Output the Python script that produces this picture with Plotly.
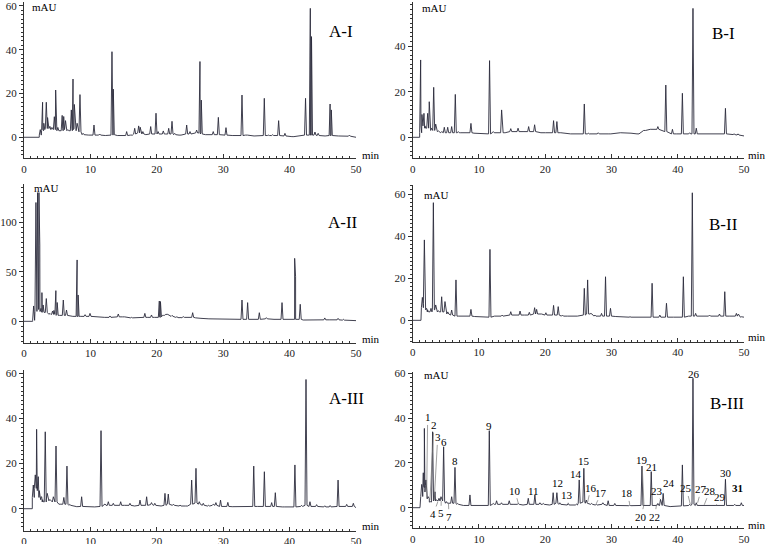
import plotly.graph_objects as go

# ---------------- data (retention time [min], apex height [mAU], local baseline [mAU]) ----------------
a1_start = 2.3
a1_rt = [2.45, 2.8, 2.98, 3.36, 3.55, 3.9, 4.2, 4.57, 4.77, 5.1, 5.75, 5.98, 6.25, 6.6, 7.13, 7.38, 7.58, 8.0, 8.43, 8.9,
         9.6, 10.54, 11.4, 12.4, 13.25, 13.45, 14.2, 15.46, 16.2, 16.67, 17.27, 17.5, 17.9, 18.5, 19.08, 19.88, 20.2,
         20.98, 21.5, 21.79, 22.29, 22.7, 23.5, 24.5, 25.0, 26.0, 26.5, 26.7, 27.5, 28.5, 29.27, 29.8, 30.42, 31.5,
         32.83, 33.5, 34.8, 36.19, 36.8, 37.45, 38.35, 39.3, 40.5, 42.4, 43.12, 43.3, 43.82, 44.3, 45.2, 46.1, 46.28,
         47.5, 49.0]
a1_h = [3.5, 16.0, 6.4, 16.0, 9.0, 5.0, 4.5, 9.4, 21.6, 4.5, 10.0, 9.5, 7.6, 3.5, 12.5, 26.6, 15.0, 6.4, 19.5, 1.8,
        1.2, 5.6, 1.5, 0.8, 39.1, 22.0, 0.8, 2.6, 1.0, 4.1, 5.2, 4.6, 2.6, 1.2, 4.9, 11.0, 2.6,
        2.9, 1.5, 4.1, 7.3, 1.8, 1.0, 5.6, 2.6, 3.3, 34.6, 17.0, 1.2, 2.6, 9.1, 1.2, 4.4, 0.8,
        19.3, 1.0, 0.6, 17.8, 1.0, 1.2, 7.6, 1.8, 0.3, 17.8, 58.9, 46.0, 2.4, 1.8, 0.6, 15.2, 12.5,
        0.6, 1.0]
a1_base = [1.0, 3.0, 3.5, 4.0, 4.0, 4.0, 3.5, 3.5, 4.0, 3.0, 3.0, 4.0, 3.5, 3.0, 3.0, 4.0, 3.5, 3.0, 2.5, 1.2,
           1.0, 1.0, 1.0, 0.8, 1.0, 1.2, 0.8, 0.8, 1.0, 1.5, 2.0, 2.0, 1.5, 1.2, 1.5, 1.5, 1.5,
           1.5, 1.5, 1.5, 1.5, 1.2, 1.0, 1.5, 1.5, 2.0, 2.0, 1.5, 1.2, 1.2, 1.2, 1.2, 1.0, 0.8,
           0.8, 1.0, 0.6, 0.8, 0.8, 0.8, 0.8, 0.6, 0.3, 1.0, 1.0, 1.0, 1.0, 0.8, 0.6, 0.8, 0.8,
           0.6, 0.5]
a1_end = 0.0

b1_start = 1.05
b1_rt = [1.2, 1.4, 1.7, 1.96, 2.26, 2.5, 2.86, 3.17, 3.47, 3.87, 4.37, 4.77, 5.28, 5.88, 6.43, 6.88, 7.4, 8.0, 8.79,
         9.4, 10.5, 11.6, 12.16, 13.42, 13.8, 14.8, 15.9, 16.8, 17.5, 18.4, 19.2, 20.2, 21.26, 21.76, 22.2, 23.97,
         25.0, 25.9, 26.5, 28.0, 29.75, 31.5, 32.8, 34.0, 35.0, 36.0, 37.0, 38.2, 39.2, 40.0, 40.7, 41.8, 42.3,
         42.8, 44.0, 46.1, 47.2, 48.5, 49.1]
b1_h = [33.9, 10.0, 10.5, 4.0, 10.5, 15.6, 4.0, 21.9, 5.8, 2.8, 2.5, 4.4, 4.4, 4.7, 18.8, 2.5, 2.0, 2.0, 6.1,
        1.8, 1.5, 33.6, 2.5, 12.0, 2.0, 3.8, 4.0, 2.5, 4.7, 5.5, 2.0, 2.0, 7.3, 6.9, 2.0, 1.5,
        1.5, 14.6, 1.8, 2.0, 1.5, 2.0, 2.0, 1.5, 3.0, 3.5, 4.7, 22.9, 3.5, 1.5, 19.3, 2.0, 56.5,
        4.0, 1.5, 1.8, 12.7, 1.5, 1.5]
b1_base = [2.0, 5.0, 5.0, 4.0, 4.0, 4.0, 3.0, 3.0, 3.0, 2.5, 2.0, 2.0, 2.0, 2.0, 2.0, 2.0, 2.0, 2.0, 2.0,
           1.8, 1.5, 1.5, 2.0, 2.0, 2.0, 2.5, 2.5, 2.5, 2.5, 2.5, 2.0, 2.0, 2.0, 2.0, 2.0, 1.5,
           1.5, 1.5, 1.5, 1.5, 1.5, 2.0, 1.8, 1.5, 3.0, 3.5, 3.5, 2.5, 1.5, 1.5, 1.5, 1.5, 1.5,
           1.5, 1.5, 1.5, 1.5, 1.2, 1.0]
b1_end = 0.6

a2_start = 1.3
a2_rt = [1.45, 1.8, 2.05, 2.25, 2.38, 2.55, 2.7, 2.88, 3.36, 3.9, 4.3, 4.5, 4.8, 5.0, 5.5, 5.92, 6.4, 7.2, 8.0, 8.15,
         8.7, 9.2, 9.94, 10.9, 12.0, 12.95, 14.2, 15.0, 16.2, 17.2, 18.2, 18.7, 19.2, 19.8, 20.38, 20.55, 21.0, 21.5,
         22.3, 23.0, 23.5, 24.0, 24.8, 25.4, 26.0, 26.5, 28.0, 30.0, 31.5, 32.83, 33.68, 34.5, 35.44, 36.5, 37.5,
         38.86, 39.5, 40.76, 40.9, 41.6, 42.2, 43.5, 44.3, 45.3, 46.2, 47.3, 48.1, 49.0]
a2_h = [15.5, 120.0, 130.0, 130.0, 77.0, 13.0, 29.0, 16.5, 23.0, 8.0, 10.4, 11.0, 31.0, 19.0, 6.0, 21.5, 11.4, 5.0, 62.0, 26.6,
        5.0, 6.7, 8.0, 4.7, 4.0, 5.4, 7.4, 4.5, 4.0, 3.5, 8.0, 4.0, 6.4, 4.0, 20.5, 20.0, 6.0, 7.4,
        6.0, 4.5, 4.0, 4.7, 4.2, 8.7, 3.5, 3.0, 2.5, 2.0, 2.0, 21.5, 18.9, 2.5, 8.7, 3.7, 2.0,
        18.9, 2.0, 63.6, 45.0, 17.2, 1.3, 1.3, 2.0, 3.4, 1.5, 3.0, 2.0, 1.0]
a2_base = [1.0, 10.0, 12.0, 12.0, 12.0, 10.0, 10.0, 9.0, 9.0, 7.0, 7.0, 7.0, 7.0, 6.0, 6.0, 6.0, 6.0, 5.0, 5.0, 5.0,
           5.0, 5.0, 5.0, 4.5, 4.0, 4.0, 4.5, 4.5, 3.5, 3.5, 4.0, 4.0, 4.0, 4.0, 4.0, 4.5, 6.0, 7.0,
           5.0, 4.0, 3.5, 4.0, 4.0, 4.0, 3.5, 3.0, 2.5, 2.0, 2.0, 2.0, 2.0, 2.0, 2.0, 2.5, 2.0,
           2.0, 2.0, 2.0, 2.0, 2.0, 1.3, 1.3, 1.5, 1.5, 1.5, 1.5, 1.2, 1.0]
a2_end = 0.7

b2_start = 1.25
b2_rt = [1.46, 1.76, 2.1, 2.36, 2.76, 3.12, 3.47, 3.87, 4.37, 4.87, 5.3, 5.88, 6.53, 7.1, 8.0, 8.79, 9.5, 10.5, 11.66,
         12.5, 13.5, 14.8, 15.5, 16.2, 17.0, 17.6, 18.4, 18.7, 19.3, 20.1, 20.8, 21.26, 21.96, 22.6, 23.5, 24.7,
         25.9, 26.4, 26.9, 27.5, 28.5, 29.1, 29.85, 30.5, 32.8, 34.5, 36.13, 37.3, 38.3, 39.5, 40.85, 41.8, 42.2,
         42.7, 44.07, 44.8, 46.3, 47.1, 48.0, 48.85, 49.15, 49.6]
b2_h = [10.9, 38.2, 5.7, 4.1, 5.7, 55.9, 7.3, 4.6, 11.2, 8.9, 4.0, 4.9, 19.2, 2.0, 2.0, 5.2, 1.8, 1.5, 33.7,
        2.0, 2.5, 4.1, 2.5, 4.4, 2.5, 3.8, 6.0, 5.2, 3.0, 3.6, 2.5, 7.1, 6.5, 2.5, 2.0, 2.0,
        15.2, 19.2, 3.3, 2.5, 3.3, 20.7, 5.7, 2.0, 1.7, 1.5, 17.6, 2.5, 8.1, 1.5, 20.7, 2.0, 60.6,
        3.3, 2.0, 2.5, 3.0, 13.6, 2.0, 3.3, 3.0, 1.7]
b2_base = [6.0, 8.0, 5.0, 4.0, 4.0, 5.0, 5.0, 4.0, 4.0, 4.0, 3.0, 2.5, 2.0, 2.0, 2.0, 2.0, 1.8, 1.5, 1.5,
           2.0, 2.0, 2.5, 2.5, 2.5, 2.5, 2.5, 3.0, 3.0, 3.0, 2.5, 2.5, 2.5, 2.5, 2.0, 2.0, 2.0,
           2.5, 3.0, 3.0, 2.0, 2.0, 2.0, 2.0, 1.8, 1.5, 1.5, 1.5, 1.5, 1.5, 1.5, 1.5, 2.0, 2.0,
           2.0, 2.0, 2.0, 2.0, 2.0, 2.0, 2.0, 2.0, 1.5]
b2_end = 1.5

a3_start = 1.25
a3_rt = [1.4, 1.7, 1.9, 2.15, 2.4, 2.66, 2.9, 3.2, 3.5, 3.9, 4.42, 4.82, 5.4, 6.0, 6.47, 6.9, 7.8, 8.68, 9.44, 10.5,
         11.6, 12.2, 12.7, 13.45, 14.56, 15.3, 15.96, 16.8, 17.47, 18.47, 19.2, 19.7, 20.5, 21.23, 21.73, 22.5, 23.5,
         24.5, 25.25, 25.9, 26.4, 27.0, 27.8, 28.5, 28.9, 29.6, 30.7, 31.5, 32.5, 33.5, 34.6, 35.3, 36.2, 37.3,
         37.85, 39.05, 40.8, 41.8, 42.47, 43.07, 44.07, 45.3, 46.1, 47.3, 48.6, 49.1, 49.6]
a3_h = [10.5, 15.0, 35.2, 14.2, 6.0, 5.3, 3.1, 34.1, 6.8, 4.1, 5.3, 27.8, 2.1, 5.0, 18.9, 1.9, 0.9, 5.3, 0.9, 0.8,
        34.6, 2.1, 3.1, 2.4, 3.1, 1.5, 2.4, 1.2, 3.8, 5.3, 2.7, 2.4, 1.2, 6.8, 6.5, 2.0, 1.6,
        1.2, 12.7, 17.9, 3.1, 2.4, 1.5, 2.0, 2.7, 3.8, 2.8, 0.9, 0.9, 0.9, 18.9, 1.0, 16.4, 2.7,
        7.1, 0.9, 19.4, 1.5, 57.3, 3.1, 1.8, 1.3, 1.4, 12.7, 1.9, 1.0, 2.4]
a3_base = [5.0, 9.0, 10.0, 8.0, 5.0, 4.0, 3.0, 3.0, 4.0, 3.5, 3.0, 3.0, 2.0, 2.0, 2.0, 1.5, 0.9, 1.0, 0.9, 0.8,
           1.0, 1.5, 1.5, 1.5, 1.5, 1.5, 1.5, 1.2, 1.5, 1.5, 1.8, 1.5, 1.2, 1.5, 2.0, 1.5, 1.2,
           1.2, 2.0, 2.5, 2.0, 1.5, 1.2, 1.5, 1.5, 1.0, 1.0, 0.9, 0.9, 0.9, 1.0, 1.0, 1.0, 1.0,
           1.0, 0.8, 0.8, 1.0, 1.5, 1.0, 1.0, 0.8, 0.8, 1.0, 1.0, 1.0, 1.0]
a3_end = 0.5

b3_start = 1.1
b3_rt = [1.36, 1.6, 1.76, 2.0, 2.36, 2.66, 3.0, 3.37, 3.6, 3.97, 4.27, 4.67, 5.1, 5.88, 6.38, 6.78, 7.8, 8.64, 9.1,
         10.5, 11.56, 12.16, 12.66, 13.4, 14.57, 15.3, 15.93, 16.8, 17.44, 18.44, 19.2, 19.7, 20.5, 21.2, 21.76,
         22.2, 23.47, 24.7, 25.13, 25.83, 26.2, 27.0, 27.7, 28.7, 29.5, 30.5, 31.5, 32.76, 34.6, 35.3, 36.0, 37.0,
         37.4, 37.8, 39.0, 40.7, 41.8, 42.3, 42.8, 43.8, 45.3, 46.1, 47.2, 48.6, 49.6]
b3_h = [10.4, 15.6, 35.4, 12.4, 4.9, 2.7, 33.9, 7.1, 3.4, 4.2, 4.9, 27.2, 2.7, 4.9, 18.0, 1.9, 1.0, 5.7, 1.0,
        0.8, 34.4, 1.9, 3.1, 2.2, 3.1, 1.5, 1.9, 1.2, 4.2, 5.7, 2.2, 1.9, 1.2, 6.7, 6.7,
        2.2, 1.9, 1.6, 12.4, 17.6, 3.4, 1.9, 1.6, 2.2, 3.1, 1.9, 0.9, 1.2, 18.6, 1.0, 16.1, 1.9,
        3.7, 6.4, 0.5, 19.1, 1.5, 57.8, 2.2, 1.1, 0.8, 1.1, 12.7, 1.5, 2.2]
b3_base = [5.0, 9.0, 10.0, 7.0, 4.0, 2.5, 3.0, 3.5, 3.0, 3.0, 3.0, 3.0, 2.0, 2.0, 2.0, 1.5, 1.0, 1.0, 1.0,
           0.8, 1.0, 1.5, 1.5, 1.5, 1.5, 1.5, 1.5, 1.2, 1.5, 1.5, 1.5, 1.5, 1.2, 1.5, 2.0,
           1.5, 1.2, 1.2, 2.0, 2.5, 2.0, 1.5, 1.2, 1.5, 1.0, 1.0, 0.9, 0.9, 1.0, 1.0, 1.0, 1.0,
           1.0, 1.0, 0.5, 0.8, 1.0, 1.5, 1.0, 1.0, 0.8, 0.8, 1.0, 1.0, 1.0]
b3_end = 1.0

panel_names = ["A-I", "B-I", "A-II", "B-II", "A-III", "B-III"]
x_ticks = [0, 10, 20, 30, 40, 50]

# peak labels in chromatogram B-III
b3_lbl = [str(i) for i in range(1, 31)] + ["<b>31</b>"]
b3_lbl_x = [2.26, 3.2, 3.77, 3.12, 4.27, 4.77, 5.48, 6.38, 11.5, 15.43, 18.24, 21.86, 23.27, 24.72, 25.83, 26.88,
            28.49, 32.41, 34.6, 34.5, 36.03, 36.53, 36.93, 38.64, 41.3, 42.41, 43.55, 44.85, 46.33, 47.34, 49.0]
b3_lbl_y = [40.3, 36.9, 31.4, -2.8, -2.5, 29.5, -4.0, 21.0, 36.6, 7.6, 7.6, 10.9, 5.7, 14.9, 21.0, 8.9,
            6.7, 6.4, 21.3, -4.0, 18.0, -4.0, 7.4, 11.2, 8.6, 59.6, 8.2, 7.6, 4.9, 15.3, 8.6]
b3_tip_x = [2.1, 2.6, 3.25, 3.8, 4.3, None, 5.4, None, None, 15.93, None, None, 23.47, None, None, 26.4,
            27.7, 32.76, 34.9, 34.9, None, 36.8, 37.3, None, 41.9, None, 43.0, 44.0, 45.8, None, None]
b3_tip_y = [4.0, 3.4, 3.4, 2.7, 3.0, None, 2.0, None, None, 2.0, None, None, 2.2, None, None, 2.5,
            1.8, 1.5, 1.5, 1.5, None, 1.5, 3.8, None, 1.5, None, 2.2, 1.3, 1.0, None, None]

# ---------------- figure ----------------
W, H = 769, 544
HW = 0.15  # drawn half-width of a peak, min

def chromatogram(start, rt, h, base, end_val):
    pts = [(0.0, 0.0), (start, 0.0)]
    for t, v, b in zip(rt, h, base):
        pts += [(t - HW, b), (t, v), (t + HW, b)]
    pts.append((50.0, end_val))
    pts.sort(key=lambda p: p[0])
    return [p[0] for p in pts], [p[1] for p in pts]

series = [
    (a1_start, a1_rt, a1_h, a1_base, a1_end),
    (b1_start, b1_rt, b1_h, b1_base, b1_end),
    (a2_start, a2_rt, a2_h, a2_base, a2_end),
    (b2_start, b2_rt, b2_h, b2_base, b2_end),
    (a3_start, a3_rt, a3_h, a3_base, a3_end),
    (b3_start, b3_rt, b3_h, b3_base, b3_end),
]

xdom_l = [24 / W, 356 / W]
xdom_r = [412.7 / W, 744 / W]
ydom_px = [(2, 158.3), (2, 158.3), (184, 343), (185, 342), (370, 530.7), (372, 528.3)]
yranges = [[-9.6, 61.8], [-9.2, 59.3], [-21.9, 138.7], [-10.3, 64.3], [-9.75, 61.5], [-9.2, 60.6]]
ydt = [20, 20, 50, 20, 20, 20]
ymin = [2, 2, 5, 2, 2, 2]
label_pos = [(47.7, 48.1), (46.95, 45.7), (48.0, 100.3), (46.95, 45.7), (48.5, 49.0), (47.4, 46.7)]
mau_pos = [(0.9, 59.6), (1.1, 56.6), (1.2, 135.0), (1.4, 59.5), None, (1.4, 59.2)]
min_px = [(371, 155), (757, 155), (371, 339), (757, 337), (371, 526), (757, 525)]

SERIF = "Liberation Serif, Times New Roman, serif"
AXC = "#333333"
LINEC = "#2b2b3c"
TXT = "#000000"

fig = go.Figure()
annotations = []
layout = dict(width=W, height=H, margin=dict(l=0, r=0, t=0, b=0, autoexpand=False), autosize=False,
              plot_bgcolor="white", paper_bgcolor="white", showlegend=False)

for i, s in enumerate(series):
    k = i + 1
    xs, ys = chromatogram(*s)
    xn = "x" if k == 1 else f"x{k}"
    yn = "y" if k == 1 else f"y{k}"
    fig.add_trace(go.Scatter(x=xs, y=ys, mode="lines", line=dict(color=LINEC, width=0.9),
                             xaxis=xn, yaxis=yn, hoverinfo="skip"))
    top, bot = ydom_px[i]
    xkey = "xaxis" if k == 1 else f"xaxis{k}"
    ykey = "yaxis" if k == 1 else f"yaxis{k}"
    layout[xkey] = dict(domain=xdom_l if i % 2 == 0 else xdom_r, anchor=yn, range=[0, 50], automargin=False,
                        tickvals=x_ticks, ticks="inside", ticklen=4, tickcolor=AXC, ticklabeloverflow="allow",
                        showline=True, linecolor=AXC, linewidth=1, showgrid=False, zeroline=False,
                        tickfont=dict(family=SERIF, size=11, color="#222"),
                        minor=dict(dtick=1, ticks="inside", ticklen=2, tickcolor=AXC, showgrid=False))
    layout[ykey] = dict(domain=[1 - bot / H, 1 - top / H], anchor=xn, range=yranges[i], automargin=False,
                        dtick=ydt[i], tick0=0, ticks="outside", ticklen=4, tickcolor=AXC, ticklabeloverflow="allow",
                        showline=True, linecolor=AXC, linewidth=1, showgrid=False, zeroline=False,
                        tickfont=dict(family=SERIF, size=11, color="#222"),
                        minor=dict(dtick=ymin[i], ticks="outside", ticklen=2, tickcolor=AXC, showgrid=False))
    lx, ly = label_pos[i]
    annotations.append(dict(x=lx, y=ly, xref=xn, yref=yn, text=panel_names[i], showarrow=False,
                            font=dict(family=SERIF, size=17, color=TXT)))
    if mau_pos[i] is not None:
        mx, my = mau_pos[i]
        annotations.append(dict(x=mx, y=my, xref=xn, yref=yn, text="mAU", showarrow=False, xanchor="left",
                                font=dict(family=SERIF, size=11, color=TXT)))
    px, py = min_px[i]
    annotations.append(dict(x=px / W, y=1 - py / H, xref="paper", yref="paper", text="min", showarrow=False,
                            xanchor="center", yanchor="middle",
                            font=dict(family=SERIF, size=11, color=TXT)))

for t, lx, ly, tx, ty in zip(b3_lbl, b3_lbl_x, b3_lbl_y, b3_tip_x, b3_tip_y):
    if tx is None:
        annotations.append(dict(x=lx, y=ly, xref="x6", yref="y6", text=t, showarrow=False,
                                font=dict(family=SERIF, size=11, color=TXT)))
    else:
        annotations.append(dict(x=tx, y=ty, xref="x6", yref="y6", ax=lx, ay=ly, axref="x6", ayref="y6",
                                text=t, showarrow=True, arrowhead=0, arrowwidth=0.7, arrowcolor="#777",
                                standoff=0, font=dict(family=SERIF, size=11, color=TXT)))

layout["annotations"] = annotations
fig.update_layout(**layout)
fig.write_html("out.html", config={"displayModeBar": False},
               post_script="document.body.style.margin='0';document.body.style.overflow='hidden';")
